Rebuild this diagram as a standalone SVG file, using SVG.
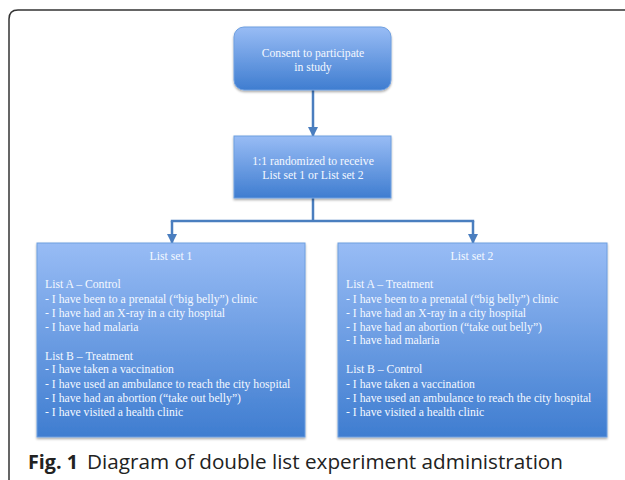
<svg xmlns="http://www.w3.org/2000/svg" width="625" height="480" viewBox="0 0 625 480">
<defs>
<linearGradient id="g" x1="0" y1="0" x2="0" y2="1">
<stop offset="0" stop-color="#98bcf5"/>
<stop offset="1" stop-color="#3f7dd0"/>
</linearGradient>
<filter id="sh" x="-10%" y="-10%" width="120%" height="130%">
<feDropShadow dx="0" dy="1.5" stdDeviation="1.2" flood-color="#000" flood-opacity="0.35"/>
</filter>
<marker id="ah" viewBox="0 0 10 10" refX="9" refY="5" markerWidth="4" markerHeight="4" orient="auto" markerUnits="strokeWidth">
<path d="M0,0 L10,5 L0,10 z" fill="#4a7ebf"/>
</marker>
<style>
.box{fill:url(#g);stroke:#6e9fe0;stroke-width:1;filter:url(#sh)}
.t{font-family:"Liberation Serif","Times New Roman",serif;font-size:11.7px;fill:#f4f8ff}
.c{text-anchor:middle}
.ln{stroke:#4a7ebf;stroke-width:2.5;fill:none}
.cap{font-family:"Open Sans","Noto Sans",sans-serif;font-size:19.5px;fill:#222}
</style>
</defs>
<path d="M9,520 V19 Q9,10 18,10 H700" fill="none" stroke="#333" stroke-width="1.5"/>
<g id="connectors">
<line class="ln" x1="313" y1="90" x2="313" y2="136" marker-end="url(#ah)"/>
<line class="ln" x1="313" y1="198" x2="313" y2="221"/>
<line class="ln" x1="170.8" y1="221" x2="474.2" y2="221"/>
<line class="ln" x1="172" y1="221" x2="172" y2="243" marker-end="url(#ah)"/>
<line class="ln" x1="473" y1="221" x2="473" y2="243" marker-end="url(#ah)"/>
</g>
<g id="consent">
<rect class="box" x="234" y="27" width="157" height="63" rx="10"/>
<text class="t c" x="313" y="57">Consent to participate</text>
<text class="t c" x="313" y="71">in study</text>
</g>
<g id="randomize">
<rect class="box" x="234" y="136" width="157" height="62"/>
<text class="t c" x="313" y="165">1:1 randomized to receive</text>
<text class="t c" x="313" y="179">List set 1 or List set 2</text>
</g>
<g id="listset1">
<rect class="box" x="37" y="243" width="268" height="194"/>
<text class="t c" x="171" y="260">List set 1</text>
<text class="t" x="45" y="288">List A – Control</text>
<text class="t" x="45" y="302.5">- I have been to a prenatal (“big belly”) clinic</text>
<text class="t" x="45" y="317">- I have had an X-ray in a city hospital</text>
<text class="t" x="45" y="331">- I have had malaria</text>
<text class="t" x="45" y="359.5">List B – Treatment</text>
<text class="t" x="45" y="373">- I have taken a vaccination</text>
<text class="t" x="45" y="388">- I have used an ambulance to reach the city hospital</text>
<text class="t" x="45" y="402">- I have had an abortion (“take out belly”)</text>
<text class="t" x="45" y="415.5">- I have visited a health clinic</text>
</g>
<g id="listset2">
<rect class="box" x="338" y="243" width="269" height="194"/>
<text class="t c" x="472" y="260">List set 2</text>
<text class="t" x="346" y="288">List A – Treatment</text>
<text class="t" x="346" y="302.5">- I have been to a prenatal (“big belly”) clinic</text>
<text class="t" x="346" y="317">- I have had an X-ray in a city hospital</text>
<text class="t" x="346" y="331">- I have had an abortion (“take out belly”)</text>
<text class="t" x="346" y="344">- I have had malaria</text>
<text class="t" x="346" y="373">List B – Control</text>
<text class="t" x="346" y="388">- I have taken a vaccination</text>
<text class="t" x="346" y="401.5">- I have used an ambulance to reach the city hospital</text>
<text class="t" x="346" y="415.5">- I have visited a health clinic</text>
</g>
<text class="cap" x="28" y="469" font-weight="bold" textLength="50" lengthAdjust="spacingAndGlyphs">Fig. 1</text>
<text class="cap" x="87" y="469" textLength="476" lengthAdjust="spacingAndGlyphs">Diagram of double list experiment administration</text>
</svg>
